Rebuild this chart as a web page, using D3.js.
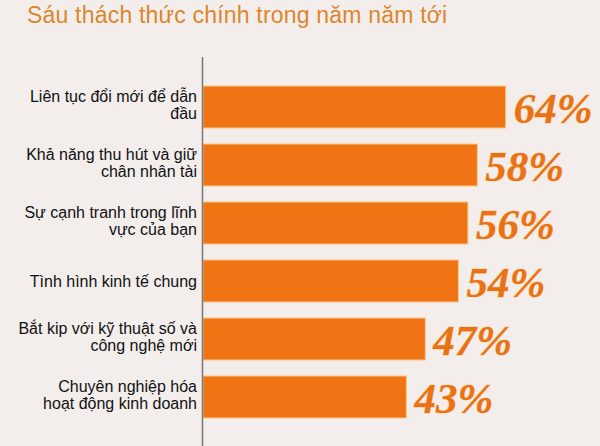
<!DOCTYPE html>
<html>
<head>
<meta charset="utf-8">
<script src="https://cdn.jsdelivr.net/npm/d3@7"></script>
<style>
  html, body { margin: 0; padding: 0; background: #f3eeec; }
  svg { display: block; }
</style>
</head>
<body>
<div id="chart"></div>
<script>
const title = "Sáu thách thức chính trong năm năm tới";
const categories = [
  ["Liên tục đổi mới để dẫn", "đầu"],
  ["Khả năng thu hút và giữ", "chân nhân tài"],
  ["Sự cạnh tranh trong lĩnh", "vực của bạn"],
  ["Tình hình kinh tế chung"],
  ["Bắt kip với kỹ thuật số và", "công nghệ mới"],
  ["Chuyên nghiệp hóa", "hoạt động kinh doanh"]
];
const values = [64, 58, 56, 54, 47, 43];
const valueLabels = ["64%", "58%", "56%", "54%", "47%", "43%"];

const W = 600, H = 446;
const svg = d3.select("#chart").append("svg").attr("width", W).attr("height", H);
svg.append("rect").attr("width", W).attr("height", H).attr("fill", "#f3eeec");

const idx = d3.range(categories.length);
const x = d3.scaleLinear().domain([0, 100]).range([203, 676]);
const y = d3.scaleBand().domain(idx).range([78, 426]).paddingInner(0.276).paddingOuter(0.138);

svg.append("text")
  .attr("x", 27).attr("y", 23)
  .attr("font-family", "Liberation Sans, Arial, sans-serif")
  .attr("font-size", 23)
  .attr("letter-spacing", 0.2)
  .attr("fill", "#dc862c")
  .text(title);

// bars
svg.selectAll("rect.bar").data(idx).enter().append("rect")
  .attr("class", "bar")
  .attr("x", x(0))
  .attr("y", i => y(i))
  .attr("width", i => x(values[i]) - x(0))
  .attr("height", y.bandwidth())
  .attr("fill", "#f07413")
  .attr("stroke", "#f8c88a")
  .attr("stroke-width", 1);

// axis line
svg.append("line")
  .attr("x1", x(0) - 0.5).attr("x2", x(0) - 0.5)
  .attr("y1", 57).attr("y2", H)
  .attr("stroke", "#7a7676").attr("stroke-width", 1.5);

// category labels
const lab = svg.selectAll("text.cat").data(idx).enter().append("text")
  .attr("class", "cat")
  .attr("text-anchor", "end")
  .attr("font-family", "Liberation Sans, Arial, sans-serif")
  .attr("font-size", 16)
  .attr("fill", "#111");
lab.each(function(i) {
  const lines = categories[i];
  const c = y(i) + y.bandwidth() / 2;
  const t = d3.select(this);
  if (lines.length === 1) {
    t.append("tspan").attr("x", 197).attr("y", c + 5.5).text(lines[0]);
  } else {
    t.append("tspan").attr("x", 197).attr("y", c - 5.5).text(lines[0]);
    t.append("tspan").attr("x", 197).attr("y", c + 11.5).text(lines[1]);
  }
});

// value labels
svg.selectAll("text.val").data(idx).enter().append("text")
  .attr("class", "val")
  .attr("x", i => x(values[i]) + 8)
  .attr("y", i => y(i) + y.bandwidth() / 2 + 16)
  .attr("font-family", "Liberation Serif, Times New Roman, serif")
  .attr("font-style", "italic")
  .attr("font-weight", "bold")
  .attr("font-size", 43)
  .attr("fill", "#ea7216")
  .attr("stroke", "#f9cf96")
  .attr("stroke-width", 1)
  .attr("paint-order", "stroke")
  .text(i => valueLabels[i]);
</script>
</body>
</html>
